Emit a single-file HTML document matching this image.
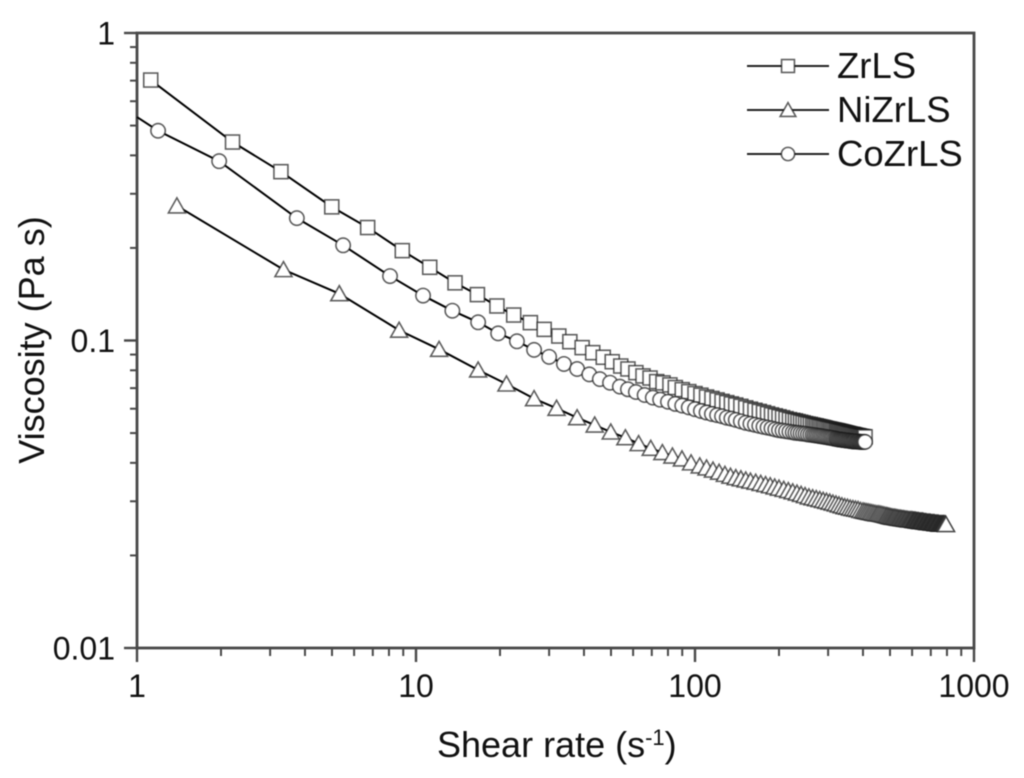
<!DOCTYPE html>
<html lang="en">
<head>
<meta charset="utf-8">
<title>Viscosity vs shear rate</title>
<style>
html,body{margin:0;padding:0;background:#fff;width:1024px;height:778px;overflow:hidden}
svg{display:block;filter:blur(0.45px)}
text{font-family:"Liberation Sans",sans-serif;fill:#111}
</style>
</head>
<body>
<svg id="chart" xmlns="http://www.w3.org/2000/svg" width="1024" height="778" viewBox="0 0 1024 778">
  <g id="axes"></g>
  <g id="series"></g>
  <g id="legend"></g>
  <text x="437" y="757" font-size="36">Shear rate (s<tspan dy="-12" font-size="22">-1</tspan><tspan dy="12">)</tspan></text>
  <text transform="translate(44,340) rotate(-90)" text-anchor="middle" font-size="36">Viscosity (Pa s)</text>
</svg>
<script>
var zrRate = [1.12,2.2,3.28,4.99,6.71,8.93,11.2,13.8,16.6,19.5,22.4,25.7,28.8,32.5,35.6,39.4,43,46.9,50.5,54.2,57.5,61.4,65.1,69,72.9,76.8,81.3,
85,90,95,100,105,110,115,120,125,130,135,140,146,152,158,164,170,176,182,188,194,
200,206,212,218,224,229,234,239,244,249,254,259,264,268,272,276,280,284,288,292,296,300,304,308,312,316,
320,323,326,329,332,335,338,341,344,347,
350,353,356,359,362,365,368,371,374,377,
380,383,386,389,392,395,398,401,404,407];
var zrVisc = [.703,.442,.354,.272,.233,.196,.173,.154,.141,.1295,.121,.1143,.1087,.1034,.0991,.0948,.0913,.0882,.0853,.0826,.0808,.0786,.0767,.0755,.0735,.0728,.0717,
.0703,.0692,.0682,.0672,.0664,.0655,.0648,.0641,.0634,.0628,.0622,.0617,.0611,.0604,.0598,.0593,.0588,.0583,.0578,.0573,.0569,
.0565,.0561,.0557,.0553,.0550,.0548,.0545,.05425,.0540,.0537,.0535,.05335,.0531,.0529,.0528,.0526,.05245,.0523,.05215,.0520,.0518,.05165,.05155,.0514,.05125,.05115,
.0510,.0509,.0508,.0507,.0506,.0505,.0504,.0503,.0502,.0501,
.0500,.0499,.0498,.0497,.0496,.04955,.0495,.0494,.0493,.0492,
.0491,.04905,.0490,.0489,.0488,.04875,.0487,.04865,.0486,.0486];

var niRate = [1.39,3.35,5.31,8.7,12.1,16.7,21.1,26.5,31.9,37.8,43.7,49.9,56.3,62.8,69.4,76.4,83,89.8,96.8,104,
110,116,122,128,134,140,146,152,158,165,172,179,186,193,200,208,216,224,232,240,248,256,264,272,280,288,296,304,312,320,328,336,344,352,360,368,376,384,392,
400,406,412,418,424,430,436,442,448,454,460,466,472,478,484,
489,494,499,504,509,514,519,524,529,534,539,544,549,554,559,564,569,574,579,584,589,594,599,
604,608,612,616,620,624,628,632,636,
640,644,648,652,656,660,664,668,672,676,
680,684,688,692,696,700,704,708,712,716,
720,724,728,732,736,740,744,748,752,756,
760,764,768,772,776,780,784,790,794];
var niVisc = [.274,.170,.142,.108,.0936,.0802,.0722,.0647,.0602,.0561,.0531,.0504,.0483,.0462,.0446,.0432,.0421,.0412,.0400,.0391,
.0385,.0379,.0373,.0367,.0362,.0358,.0355,.0352,.0349,.0346,.0343,.0340,.0337,.0334,.0331,.0328,.0325,.0322,.0319,.0316,.0313,.0310,.0308,.0306,.0304,.0302,.0300,.0298,.0296,.0294,.0292,.0290,.0288,.0287,.0285,.0284,.0283,.0282,.0280,
.0279,.02783,.02775,.02768,.0276,.02753,.02745,.02738,.0273,.0273,.02725,.02718,.0271,.02703,.02695,
.0269,.02683,.02676,.0267,.02665,.0266,.0266,.02655,.0265,.02645,.0264,.0264,.02635,.0263,.0263,.02625,.0262,.0262,.02615,.0261,.0261,.0261,.0261,
.02605,.0260,.0260,.0260,.02595,.0259,.0259,.0259,.02585,
.0258,.0258,.0258,.0258,.0258,.02575,.0257,.0257,.0257,.02565,
.0256,.0256,.0256,.0256,.0256,.02555,.0255,.0255,.0255,.0255,
.0255,.02545,.0254,.0254,.0254,.0254,.0254,.02535,.0253,.0253,
.0253,.0253,.0253,.0253,.0253,.0253,.0253,.0253,.0252];

var coRate = [1.19,1.97,3.74,5.48,8.07,10.6,13.5,16.7,19.7,23,26.5,30,33.9,37.8,41.8,45.6,49.6,53.8,57.5,61.4,66,70.6,75,80,
85,90,95,100,105,110,115,120,125,130,135,140,146,152,158,164,170,176,182,188,194,
200,206,212,218,224,229,234,239,244,249,254,259,264,268,272,276,280,284,288,292,296,300,304,308,312,316,
320,323,326,329,332,335,338,341,344,347,
350,353,356,359,362,365,368,371,374,377,
380,383,386,389,392,395,398,401,404,407];
var coVisc = [.481,.383,.25,.204,.162,.14,.125,.1146,.1055,.0994,.0932,.0885,.0839,.0808,.0776,.0749,.0729,.0708,.0694,.068,.0665,.0652,.0642,.0632,
.0622,.0614,.0606,.0598,.0590,.0583,.0577,.0572,.0567,.0561,.0557,.0552,.0546,.0540,.0536,.0532,.0528,.0524,.0521,.0518,.0514,
.0511,.0509,.0507,.0505,.0503,.0501,.05005,.0499,.0498,.0497,.0495,.0494,.0493,.0492,.0491,.0490,.0489,.0488,.0487,.0486,.0485,.0484,.0483,.0482,.0481,.04795,
.0479,.0478,.0477,.04765,.0476,.04755,.0475,.04745,.0474,.04735,
.0473,.04725,.0472,.04715,.0471,.04705,.0470,.0470,.0470,.04695,
.0469,.0469,.0469,.04685,.0468,.0468,.0468,.0468,.0468,.0468];
var coLeadRate = [1.0];
var coLeadVisc = [.533];

var xMajorTicks = [1,10,100,1000];
var xTickLabels = ["1","10","100","1000"];
var yMajorTicks = [1,0.1,0.01];
var yTickLabels = ["1","0.1","0.01"];
var minorMultipliers = [2,3,4,5,6,7,8,9];
var legendLabels = ["ZrLS","NiZrLS","CoZrLS"];

var NS = "http://www.w3.org/2000/svg";
var X0 = 137, X_DECADE = 279, Y0 = 33, Y_DECADE = 307.5;
var AXIS_COLOR = "#484848", LINE_COLOR = "#000", MARK_COLOR = "#1a1a1a";

function xPx(r){ return X0 + Math.log10(r) * X_DECADE; }
function yPx(v){ return Y0 - Math.log10(v) * Y_DECADE; }

function make(tag, attrs, parent){
  var el = document.createElementNS(NS, tag);
  for (var k in attrs) el.setAttribute(k, attrs[k]);
  parent.appendChild(el);
  return el;
}

function drawMarker(kind, cx, cy, parent, size){
  var m;
  var s = size || 1;
  if (kind === "square") {
    m = make("rect", {x: cx - 7 * s, y: cy - 7 * s, width: 14 * s, height: 14 * s}, parent);
  } else if (kind === "triangle") {
    m = make("polygon", {points: (cx - 8.5 * s) + "," + (cy + 7 * s) + " " + (cx + 8.5 * s) + "," + (cy + 7 * s) + " " + cx + "," + (cy - 8 * s)}, parent);
  } else {
    m = make("circle", {cx: cx, cy: cy, r: 7.2 * s}, parent);
  }
  m.setAttribute("fill", "#fff");
  m.setAttribute("stroke", MARK_COLOR);
  m.setAttribute("stroke-opacity", "0.7");
  m.setAttribute("stroke-width", "1.6");
  return m;
}

var axes = document.getElementById("axes");

var frame = make("rect", {x: X0, y: Y0, width: xPx(1000) - X0, height: yPx(0.01) - Y0, fill: "none", stroke: AXIS_COLOR, "stroke-width": 2.8}, axes);



xMajorTicks.forEach(function(t, i){
  var x = xPx(t);
  var tick = make("line", {x1: x, x2: x, y1: yPx(0.01), y2: yPx(0.01) + 14, stroke: AXIS_COLOR, "stroke-width": 2.4}, axes);
  
  
  var label = make("text", {x: x, y: 697, "text-anchor": "middle", "font-size": 32}, axes);
  label.textContent = xTickLabels[i];
  
  
  if (i < xMajorTicks.length - 1) {
    minorMultipliers.forEach(function(m){
      var mx = xPx(t * m);
      var minor = make("line", {x1: mx, x2: mx, y1: yPx(0.01), y2: yPx(0.01) + 8, stroke: AXIS_COLOR, "stroke-width": 2}, axes);
      
      
    });
  }
});

yMajorTicks.forEach(function(t, i){
  var y = yPx(t);
  var tick = make("line", {x1: X0 - 13, x2: X0, y1: y, y2: y, stroke: AXIS_COLOR, "stroke-width": 2.4}, axes);
  
  
  var label = make("text", {x: 115, y: y + 11.5, "text-anchor": "end", "font-size": 32}, axes);
  label.textContent = yTickLabels[i];
  
  
  if (i < yMajorTicks.length - 1) {
    minorMultipliers.forEach(function(m){
      var my = yPx(t / 10 * m);
      var minor = make("line", {x1: X0 - 7, x2: X0, y1: my, y2: my, stroke: AXIS_COLOR, "stroke-width": 2}, axes);
      
      
    });
  }
});

var seriesGroup = document.getElementById("series");

function drawSeries(name, kind, rates, viscs, leadRates, leadViscs){
  var g = make("g", {}, seriesGroup);
  
  
  var allRates = leadRates.concat(rates);
  var allViscs = leadViscs.concat(viscs);
  var pts = allRates.map(function(r, i){ return xPx(r).toFixed(2) + "," + yPx(allViscs[i]).toFixed(2); }).join(" ");
  var line = make("polyline", {points: pts, fill: "none", stroke: LINE_COLOR, "stroke-width": 2}, g);
  
  
  rates.forEach(function(r, i){
    var mark = drawMarker(kind, xPx(r), yPx(viscs[i]), g);
    
    
  });
}

drawSeries("zrls", "square", zrRate, zrVisc, [], []);
drawSeries("nizrls", "triangle", niRate, niVisc, [], []);
drawSeries("cozrls", "circle", coRate, coVisc, coLeadRate, coLeadVisc);

var legend = document.getElementById("legend");
var legendKinds = ["square","triangle","circle"];
var legendRowY = [66, 110, 154];
legendLabels.forEach(function(name, i){
  var y = legendRowY[i];
  var g = make("g", {}, legend);
  
  
  var line = make("line", {x1: 747, x2: 829, y1: y, y2: y, stroke: "#222", "stroke-width": 2}, g);
  
  
  var mark = drawMarker(legendKinds[i], 788, y, g, 0.92);
  
  
  var label = make("text", {x: 837, y: y + 12, "font-size": 36.5}, g);
  label.textContent = name;
  
  
});
</script>
</body>
</html>
